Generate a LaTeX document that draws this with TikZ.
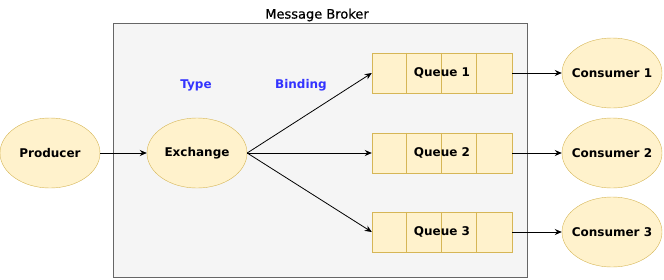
\documentclass[tikz,border=0pt]{standalone}
\usepackage{fontspec}
\setmainfont{DejaVu Sans}
\usetikzlibrary{shapes.geometric,arrows.meta}
\definecolor{nodefill}{HTML}{FFF2CC}
\definecolor{nodeline}{HTML}{D6B656}
\definecolor{brokerfill}{HTML}{F5F5F5}
\definecolor{brokerline}{HTML}{666666}
\definecolor{labelblue}{HTML}{3333FF}
\newcommand{\boldlabel}{\fontsize{12}{14}\selectfont\bfseries}
\tikzset{
  party/.style={ellipse,draw=nodeline,fill=nodefill,minimum width=100pt,minimum height=70pt,inner xsep=-15pt,inner ysep=0pt,font=\boldlabel},
  queuebox/.style={rectangle,draw=nodeline,fill=nodefill,minimum width=140pt,minimum height=40pt,inner sep=0pt},
  flow/.style={-{Stealth[length=7pt,width=6pt]},line width=0.8pt}
}
\begin{document}
\begin{tikzpicture}[x=1pt,y=-1pt]
  \useasboundingbox (0,0) rectangle (664,279);
  \draw[draw=brokerline,fill=brokerfill,line width=0.8pt] (113,23) rectangle (527,277);
  \node[font=\fontsize{13}{15}\selectfont\addfontfeatures{FakeBold=0.6}] (broker) at (317,15) {Message Broker};
  \node[labelblue,font=\boldlabel] (type) at (196,85) {Type};
  \node[labelblue,font=\boldlabel] (binding) at (301,85) {Binding};
  \node[party] (producer) at (50,153) {Producer};
  \node[party] (exchange) at (197,153) {Exchange};
  \draw[flow] (producer) -- (exchange);
  % queues and their consumers
  \foreach \i/\y in {1/73,2/153,3/232}{
    \node[queuebox] (queue\i) at (442,\y) {};
    \foreach \dx in {35,70,105}
      \draw[nodeline,line width=0.8pt] ([xshift=\dx pt]queue\i.north west) -- ([xshift=\dx pt]queue\i.south west);
    \node[font=\boldlabel] at (queue\i) {Queue \i};
    \node[party] (consumer\i) at (612,\y) {Consumer \i};
    \draw[flow] (exchange.east) -- (queue\i.west);
    \draw[flow] (queue\i) -- (consumer\i);
  }
\end{tikzpicture}
\end{document}
